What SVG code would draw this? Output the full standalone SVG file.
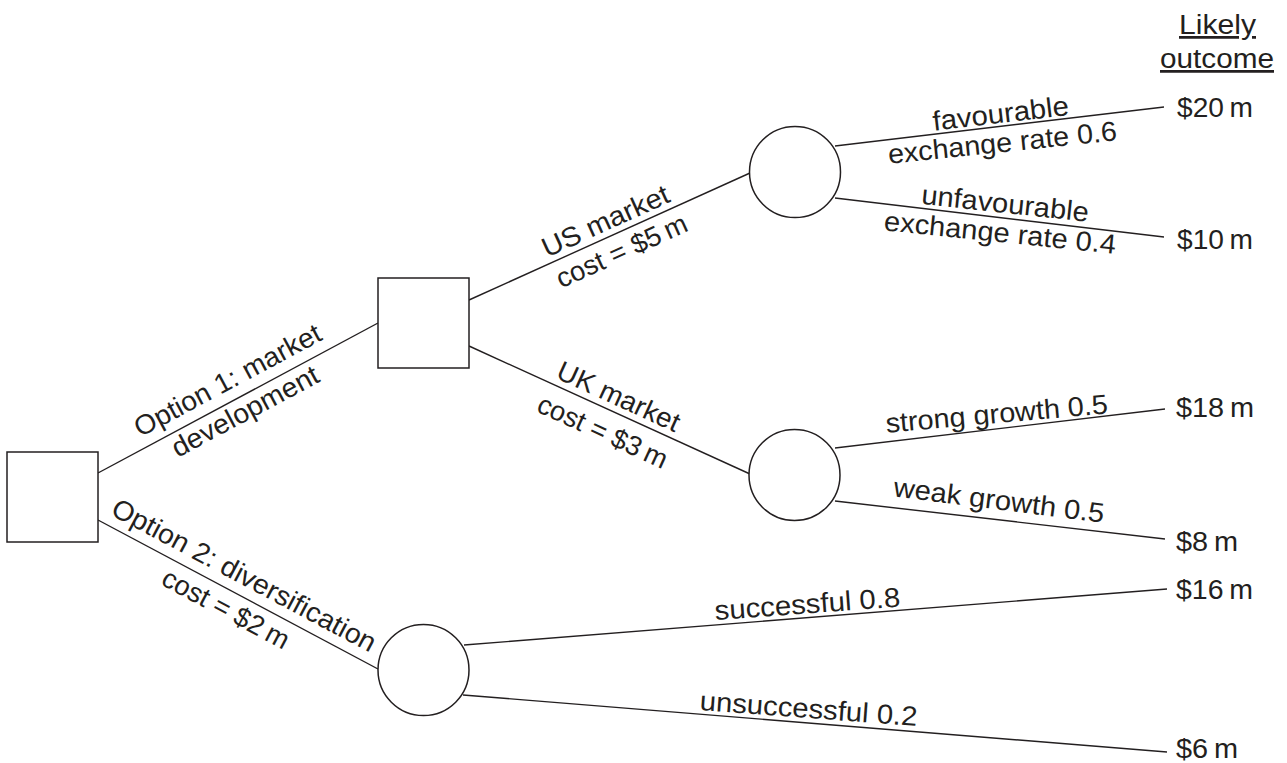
<svg xmlns="http://www.w3.org/2000/svg" width="1287" height="763" viewBox="0 0 1287 763">
<style>
.n{fill:#fff;stroke:#231f20;stroke-width:1.5}
.c line{stroke:#231f20;stroke-width:1.4;fill:none}
text{font-family:"Liberation Sans",Arial,Helvetica,sans-serif;font-size:27.5px;fill:#231f20}
.m{text-anchor:middle}
</style>
<rect width="1287" height="763" fill="#fff"/>
<g class="c" id="connectors">
<line x1="98" y1="473" x2="378" y2="323"/>
<line x1="98" y1="520" x2="378" y2="669"/>
<line x1="469" y1="300" x2="750" y2="173"/>
<line x1="469" y1="346" x2="750" y2="474"/>
<line x1="835" y1="146" x2="1164" y2="107"/>
<line x1="835" y1="198" x2="1164" y2="237"/>
<line x1="835" y1="448" x2="1165" y2="409"/>
<line x1="835" y1="501" x2="1165" y2="539"/>
<line x1="464" y1="645" x2="1167" y2="589"/>
<line x1="463" y1="695" x2="1167" y2="752"/>
</g>
<g id="root"><rect class="n" x="7" y="452" width="91" height="90"/></g>
<g id="market-decision"><rect class="n" x="378" y="278" width="91" height="90"/></g>
<g id="us-chance"><circle class="n" cx="795" cy="172" r="45.5"/></g>
<g id="uk-chance"><circle class="n" cx="794.5" cy="475" r="45.5"/></g>
<g id="div-chance"><circle class="n" cx="423.5" cy="670" r="45.5"/></g>
<g id="labels">
<text class="m" transform="translate(232 388.5) rotate(-28.18)" textLength="208" lengthAdjust="spacingAndGlyphs">Option 1: market</text>
<text class="m" transform="translate(249.5 419.5) rotate(-28.18)" textLength="163" lengthAdjust="spacingAndGlyphs">development</text>
<text class="m" transform="translate(239.8 583.5) rotate(28.02)" textLength="295" lengthAdjust="spacingAndGlyphs">Option 2: diversification</text>
<text class="m" transform="translate(221.5 617) rotate(28.02)" textLength="140" lengthAdjust="spacingAndGlyphs">cost = $2&#8201;m</text>
<text class="m" transform="translate(609.3 229.5) rotate(-24.4)" textLength="137" lengthAdjust="spacingAndGlyphs">US market</text>
<text class="m" transform="translate(625.5 259.5) rotate(-24.4)" textLength="141" lengthAdjust="spacingAndGlyphs">cost = $5&#8201;m</text>
<text class="m" transform="translate(614.8 405) rotate(24.57)" textLength="132" lengthAdjust="spacingAndGlyphs">UK market</text>
<text class="m" transform="translate(598.8 440) rotate(24.57)" textLength="140" lengthAdjust="spacingAndGlyphs">cost = $3&#8201;m</text>
<text class="m" transform="translate(1001.7 122.8) rotate(-6.7)" textLength="137" lengthAdjust="spacingAndGlyphs">favourable</text>
<text class="m" transform="translate(1003.3 152) rotate(-5.9)" textLength="230" lengthAdjust="spacingAndGlyphs">exchange rate 0.6</text>
<text class="m" transform="translate(1004.2 212.8) rotate(6.1)" textLength="168" lengthAdjust="spacingAndGlyphs">unfavourable</text>
<text class="m" transform="translate(999.2 242) rotate(5.8)" textLength="233" lengthAdjust="spacingAndGlyphs">exchange rate 0.4</text>
<text class="m" transform="translate(997.5 423) rotate(-5)" textLength="223" lengthAdjust="spacingAndGlyphs">strong growth 0.5</text>
<text class="m" transform="translate(998 509.5) rotate(7.2)" textLength="212" lengthAdjust="spacingAndGlyphs">weak growth 0.5</text>
<text class="m" transform="translate(808 613.3) rotate(-4.1)" textLength="186" lengthAdjust="spacingAndGlyphs">successful 0.8</text>
<text class="m" transform="translate(808 718) rotate(4.2)" textLength="218" lengthAdjust="spacingAndGlyphs">unsuccessful 0.2</text>
</g>
<g id="outcomes">
<text x="1179" y="34" textLength="77" lengthAdjust="spacingAndGlyphs" text-decoration="underline">Likely</text>
<text x="1160" y="68" textLength="114" lengthAdjust="spacingAndGlyphs" text-decoration="underline">outcome</text>
<text x="1177" y="117" textLength="76" lengthAdjust="spacingAndGlyphs">$20&#8201;m</text>
<text x="1177" y="249" textLength="76" lengthAdjust="spacingAndGlyphs">$10&#8201;m</text>
<text x="1176" y="417" textLength="78" lengthAdjust="spacingAndGlyphs">$18&#8201;m</text>
<text x="1176" y="551" textLength="62" lengthAdjust="spacingAndGlyphs">$8&#8201;m</text>
<text x="1176" y="599" textLength="77" lengthAdjust="spacingAndGlyphs">$16&#8201;m</text>
<text x="1176" y="758" textLength="62" lengthAdjust="spacingAndGlyphs">$6&#8201;m</text>
</g>
</svg>
